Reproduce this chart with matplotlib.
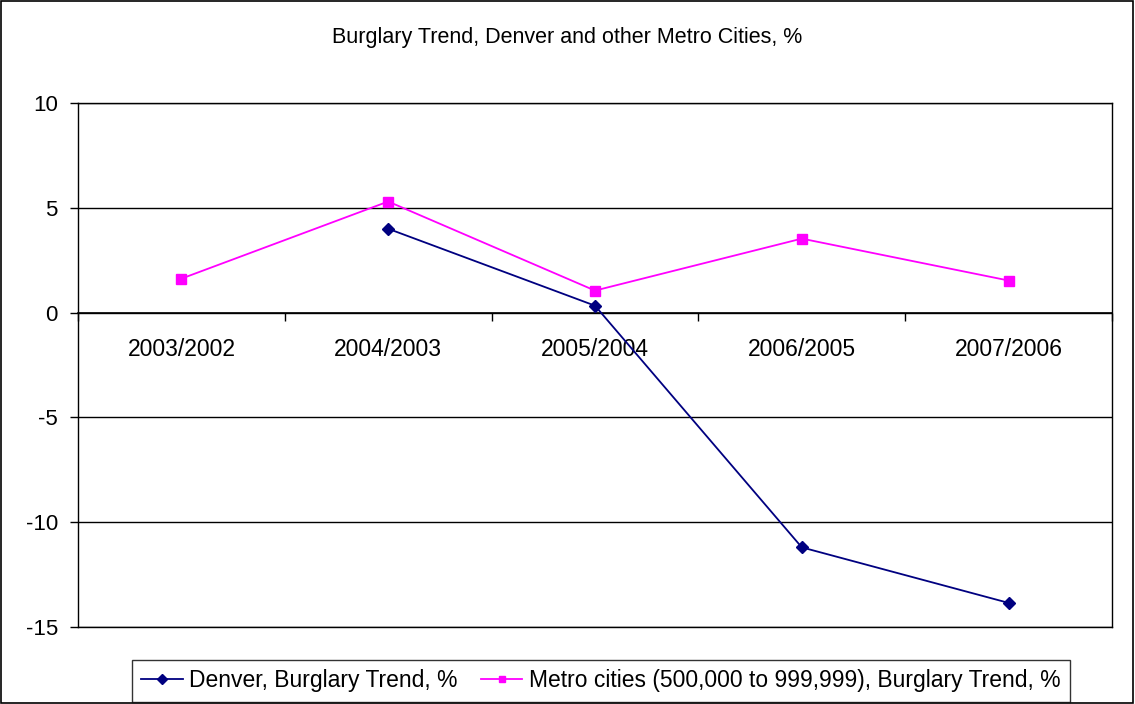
import matplotlib
matplotlib.use("Agg")
import matplotlib.pyplot as plt
from matplotlib.patches import Rectangle
import numpy as np

categories = ["2003/2002", "2004/2003", "2005/2004", "2006/2005", "2007/2006"]
denver = [np.nan, 4.0, 0.33, -11.2, -13.85]
metro = [1.62, 5.3, 1.05, 3.53, 1.53]
yticks = [-15, -10, -5, 0, 5, 10]
title = "Burglary Trend, Denver and other Metro Cities, %"
label_denver = "Denver, Burglary Trend, %"
label_metro = "Metro cities (500,000 to 999,999), Burglary Trend, %"

plt.rcParams['font.family'] = ['Liberation Sans', 'DejaVu Sans']
plt.rcParams['axes.unicode_minus'] = False

fig = plt.figure(figsize=(11.35, 7.04), dpi=100)
ax = fig.add_axes([78/1135, 1-627/704, (1112-78)/1135, (627-103)/704])

x = np.arange(len(categories)) + 0.5
ax.plot(x, denver, color="#000080", marker="D", markersize=6, linewidth=1.3, label=label_denver)
ax.plot(x, metro, color="#FF00FF", marker="s", markersize=6.5, linewidth=1.3, label=label_metro)

ax.set_xlim(0, len(categories))
ax.set_ylim(-15, 10)
ax.set_yticks(yticks)
ax.tick_params(axis='y', direction='out', length=6, width=1, labelsize=16, pad=8.5)
ax.set_xticks([])
for s in ax.spines.values():
    s.set_linewidth(1)
    s.set_color("black")
ax.yaxis.grid(True, color="black", linewidth=1)
ax.set_axisbelow(True)

# category axis at zero
sec = ax.secondary_xaxis(15/25)
sec.xaxis.set_ticks_position('bottom')
sec.xaxis.set_label_position('bottom')
sec.set_xticks(np.arange(len(categories) + 1))
sec.set_xticks(x, minor=True)
sec.set_xticklabels([], minor=False)
sec.set_xticklabels(categories, minor=True)
sec.tick_params(axis='x', which='both', top=False, labeltop=False, bottom=True, labelbottom=True)
sec.tick_params(axis='x', which='major', direction='out', length=6, width=1)
sec.tick_params(axis='x', which='minor', length=0, labelsize=16.5, pad=18.5)
for k, s in sec.spines.items():
    s.set_visible(k == 'bottom')
sec.spines['bottom'].set_linewidth(1.2)

fig.text(567/1135, 1-38/704, title, ha='center', va='center', fontsize=15.5)

leg = fig.legend(loc='center', bbox_to_anchor=(601/1135, 1-681/704), ncol=2,
                 fontsize=16.5, frameon=True, fancybox=False, edgecolor='black',
                 handlelength=1.8, handletextpad=0.3, columnspacing=1.0,
                 borderpad=0.4, borderaxespad=0)
leg.get_frame().set_linewidth(1)
for h in leg.legend_handles:
    h.set_markersize(5)

fig.patches.append(Rectangle((0.001, 0.001), 0.997, 0.997, transform=fig.transFigure,
                             fill=False, edgecolor='black', linewidth=1.2))

fig.savefig("out.png", dpi=100)
